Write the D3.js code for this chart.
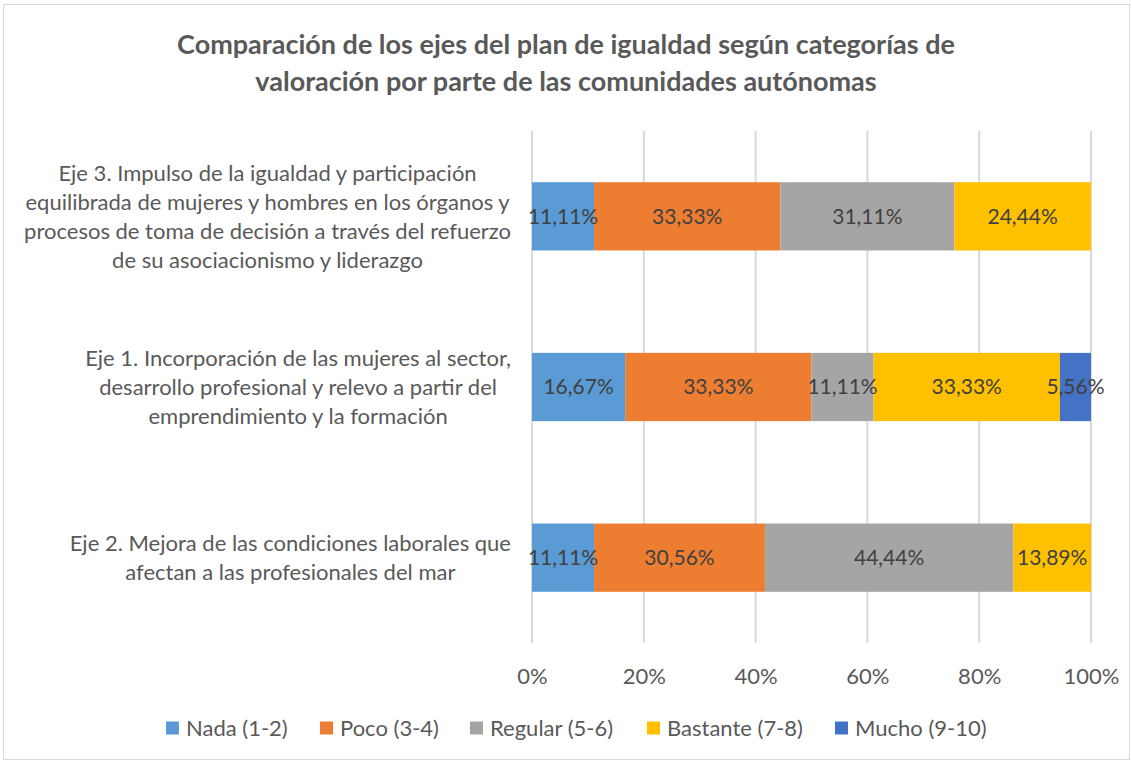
<!DOCTYPE html>
<html>
<head>
<meta charset="utf-8">
<script src="https://cdn.jsdelivr.net/npm/d3@7"></script>
<style>
  html, body { margin: 0; padding: 0; background: #fff; }
  svg { display: block; }
  text { font-family: Lato, "Open Sans", sans-serif; }
</style>
</head>
<body>
<svg id="chart" width="1132" height="763"></svg>
<script>
// Axes of the equality plan (top to bottom as drawn)
const categories = [
  "Eje 3. Impulso de la igualdad y participación equilibrada de mujeres y hombres en los órganos y procesos de toma de decisión a través del refuerzo de su asociacionismo y liderazgo",
  "Eje 1. Incorporación de las mujeres al sector, desarrollo profesional y relevo a partir del emprendimiento y la formación",
  "Eje 2. Mejora de las condiciones laborales que afectan a las profesionales del mar"
];
// Wrapped label lines for each category
const categoryLines = [
  ["Eje 3. Impulso de la igualdad y participación",
   "equilibrada de mujeres y hombres en los órganos y",
   "procesos de toma de decisión a través del refuerzo",
   "de su asociacionismo y liderazgo"],
  ["Eje 1. Incorporación de las mujeres al sector,",
   "desarrollo profesional y relevo a partir del",
   "emprendimiento y la formación"],
  ["Eje 2. Mejora de las condiciones laborales que",
   "afectan a las profesionales del mar"]
];

// Rating categories (stack series)
const seriesNames = ["Nada (1-2)", "Poco (3-4)", "Regular (5-6)", "Bastante (7-8)", "Mucho (9-10)"];
const seriesColors = ["#5B9BD5", "#ED7D31", "#A5A5A5", "#FFC000", "#4472C4"];

// Percentages per series, one value per category (same order as categories)
const nada     = [11.11, 16.67, 11.11];
const poco     = [33.33, 33.33, 30.56];
const regular  = [31.11, 11.11, 44.44];
const bastante = [24.44, 33.33, 13.89];
const mucho    = [0,     5.56,  0];

const xTicks = [0, 20, 40, 60, 80, 100];

const titleLines = [
  "Comparación de los ejes del plan de igualdad según categorías de",
  "valoración por parte de las comunidades autónomas"
];

// Build rows for the stack layout
const seriesValues = [nada, poco, regular, bastante, mucho];
const rows = categories.map((c, i) => {
  const r = { cat: c };
  seriesNames.forEach((s, j) => { r[s] = seriesValues[j][i]; });
  return r;
});
const stacked = d3.stack().keys(seriesNames)(rows);

const W = 1132, H = 763;
const plot = { left: 532, right: 1091, top: 131, bottom: 643 };

const svg = d3.select("#chart");

// Chart border
svg.append("rect")
  .attr("x", 3.5).attr("y", 4.5)
  .attr("width", W - 6).attr("height", H - 8)
  .attr("fill", "#fff").attr("stroke", "#d9d9d9").attr("stroke-width", 1);

const x = d3.scaleLinear().domain([0, 100]).range([plot.left, plot.right]);
const y = d3.scaleBand().domain(categories).range([plot.top, plot.bottom]).paddingInner(0.6).paddingOuter(0.3);

// Vertical gridlines
svg.append("g")
  .selectAll("line")
  .data(xTicks)
  .join("line")
  .attr("x1", d => x(d)).attr("x2", d => x(d))
  .attr("y1", plot.top).attr("y2", plot.bottom)
  .attr("stroke", "#d9d9d9").attr("stroke-width", 2);

// X axis tick labels
const xAxis = d3.axisBottom(x).tickValues(xTicks).tickSize(0).tickPadding(0).tickFormat(d => d + "%");
const gx = svg.append("g").attr("transform", `translate(0,${plot.bottom + 25})`).call(xAxis);
gx.select(".domain").remove();
gx.selectAll("text")
  .attr("font-family", "Lato, sans-serif")
  .attr("font-size", 22).attr("fill", "#595959");

// Bars
const layer = svg.append("g")
  .selectAll("g")
  .data(stacked)
  .join("g")
  .attr("fill", (d, i) => seriesColors[i]);

layer.selectAll("rect")
  .data(d => d.filter(p => p[1] - p[0] > 0))
  .join("rect")
  .attr("x", d => x(d[0]))
  .attr("width", d => x(d[1]) - x(d[0]))
  .attr("y", d => y(d.data.cat))
  .attr("height", y.bandwidth());

// Value labels centred in each segment
const fmt = v => v.toFixed(2).replace(".", ",") + "%";
svg.append("g")
  .selectAll("g")
  .data(stacked)
  .join("g")
  .selectAll("text")
  .data(d => d.filter(p => p[1] - p[0] > 0).map(p => ({ p, key: d.key })))
  .join("text")
  .attr("x", d => x((d.p[0] + d.p[1]) / 2))
  .attr("y", d => y(d.p.data.cat) + y.bandwidth() / 2)
  .attr("dy", "0.35em")
  .attr("text-anchor", "middle")
  .attr("font-size", 21)
  .attr("fill", "#404040")
  .text(d => fmt(d.p.data[d.key]));

// Category labels: block right-aligned to the axis, lines centred within the block
const catG = svg.append("g");
const lineH = 29;
categories.forEach((c, i) => {
  const lines = categoryLines[i];
  const g = catG.append("g");
  const texts = g.selectAll("text")
    .data(lines)
    .join("text")
    .attr("font-size", 22)
    .attr("fill", "#595959")
    .attr("text-anchor", "middle")
    .attr("dy", "0.35em")
    .text(d => d);
  const maxW = d3.max(texts.nodes(), n => n.getComputedTextLength());
  const cx = plot.left - 21 - maxW / 2;
  const cy = y(c) + y.bandwidth() / 2;
  texts
    .attr("x", cx)
    .attr("y", (d, k) => cy + (k - (lines.length - 1) / 2) * lineH);
});

// Title
svg.append("g")
  .selectAll("text")
  .data(titleLines)
  .join("text")
  .attr("x", 566)
  .attr("y", (d, i) => 45 + i * 37)
  .attr("dy", "0.35em")
  .attr("text-anchor", "middle")
  .attr("font-size", 27)
  .attr("font-weight", "bold")
  .attr("fill", "#595959")
  .text(d => d);

// Legend
const legendX = [166, 320, 470, 647, 835];
const lg = svg.append("g")
  .selectAll("g")
  .data(seriesNames)
  .join("g")
  .attr("transform", (d, i) => `translate(${legendX[i]},728)`);
lg.append("rect")
  .attr("x", 0).attr("y", -6.5)
  .attr("width", 13).attr("height", 13)
  .attr("fill", (d, i) => seriesColors[i]);
lg.append("text")
  .attr("x", 20).attr("y", 0).attr("dy", "0.35em")
  .attr("font-size", 22).attr("fill", "#595959")
  .text(d => d);
</script>
</body>
</html>
